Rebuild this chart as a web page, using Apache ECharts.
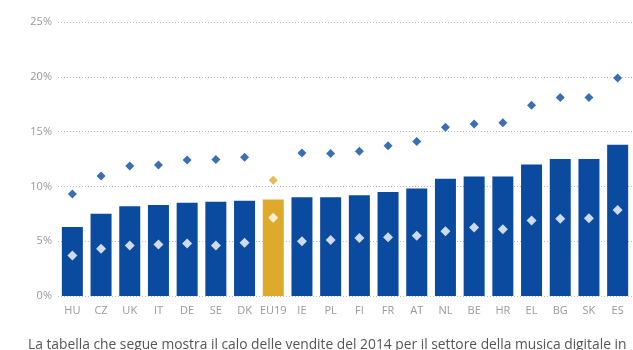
<!DOCTYPE html>
<html>
<head>
    <meta charset="utf-8">
    <title>Calo vendite musica digitale</title>
    <script src="https://cdn.jsdelivr.net/npm/echarts@6.0.0/dist/echarts.min.js"></script>
    <style>
        html, body { margin: 0; padding: 0; background: #fff; }
        #main { width: 633px; height: 350px; }
    </style>
</head>
<body>
    <div id="main"></div>
    <script>
        // data
        const countries = ['HU', 'CZ', 'UK', 'IT', 'DE', 'SE', 'DK', 'EU19', 'IE', 'PL', 'FI', 'FR', 'AT', 'NL', 'BE', 'HR', 'EL', 'BG', 'SK', 'ES'];
        const barValues = [6.3, 7.5, 8.2, 8.3, 8.5, 8.6, 8.7, 8.8, 9.0, 9.0, 9.2, 9.5, 9.8, 10.7, 10.9, 10.9, 12.0, 12.5, 12.5, 13.8];
        const upperValues = [9.3, 10.95, 11.85, 11.95, 12.4, 12.45, 12.65, 10.55, 13.05, 13.0, 13.2, 13.7, 14.1, 15.4, 15.7, 15.8, 17.4, 18.1, 18.1, 19.9];
        const lowerValues = [3.7, 4.3, 4.6, 4.7, 4.8, 4.6, 4.85, 7.15, 5.0, 5.1, 5.3, 5.35, 5.5, 5.9, 6.25, 6.1, 6.9, 7.05, 7.1, 7.85];
        const yTicks = [0, 5, 10, 15, 20, 25];
        const highlight = 'EU19';

        const blue = '#0a4ba0';
        const gold = '#ddaa2c';

        var myChart = echarts.init(document.getElementById('main'));

        const option = {
            animation: false,
            title: {
                text: 'La tabella che segue mostra il calo delle vendite del 2014 per il settore della musica digitale in',
                left: 28,
                top: 338,
                padding: 0,
                textStyle: {
                    fontFamily: 'Open Sans',
                    fontSize: 13.8,
                    fontWeight: 'normal',
                    color: '#555'
                }
            },
            grid: { left: 58, right: 1, top: 22, bottom: 54 },
            xAxis: {
                type: 'category',
                data: countries,
                axisLine: { show: false },
                axisTick: { show: false },
                axisLabel: {
                    color: '#999',
                    fontFamily: 'Open Sans',
                    fontSize: 11,
                    margin: 9,
                    interval: 0
                }
            },
            yAxis: {
                type: 'value',
                min: yTicks[0],
                max: yTicks[yTicks.length - 1],
                interval: 5,
                axisLine: { show: false },
                axisTick: { show: false },
                axisLabel: {
                    color: '#999',
                    fontFamily: 'Open Sans',
                    fontSize: 11,
                    margin: 6,
                    formatter: '{value}%'
                },
                splitLine: {
                    lineStyle: { color: '#bbb', type: [1, 2], width: 1 }
                }
            },
            series: [
                {
                    type: 'bar',
                    barWidth: 21,
                    data: barValues.map((v, i) => ({
                        value: v,
                        itemStyle: { color: countries[i] === highlight ? gold : blue }
                    }))
                },
                {
                    type: 'scatter',
                    symbol: 'diamond',
                    symbolSize: 9,
                    z: 3,
                    data: upperValues.map((v, i) => ({
                        value: v,
                        itemStyle: { color: countries[i] === highlight ? gold : blue }
                    }))
                },
                {
                    type: 'scatter',
                    symbol: 'diamond',
                    symbolSize: 10,
                    z: 3,
                    itemStyle: { color: '#fff' },
                    data: lowerValues
                }
            ]
        };

        myChart.setOption(option);
    </script>
</body>
</html>
